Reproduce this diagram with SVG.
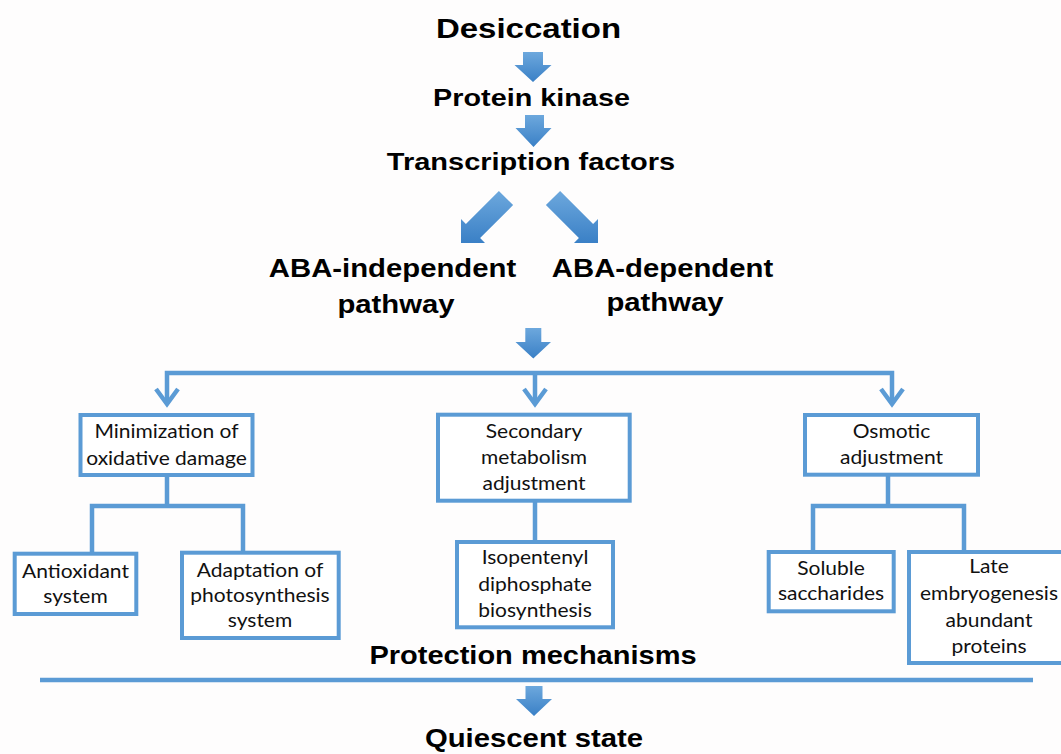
<svg xmlns="http://www.w3.org/2000/svg" width="1061" height="754" viewBox="0 0 1061 754">
<defs>
<linearGradient id="blk" x1="0" y1="0" x2="0" y2="1">
<stop offset="0" stop-color="#6DA8DD"/>
<stop offset="1" stop-color="#3A80C6"/>
</linearGradient>
<marker id="chev" markerUnits="userSpaceOnUse" markerWidth="30" markerHeight="30" refX="17" refY="15" orient="auto-start-reverse" overflow="visible">
<path d="M2,4 L17,15 L2,26" fill="none" stroke="#5B9BD5" stroke-width="4.5" stroke-linejoin="miter"/>
</marker>
<style>
.bold{font-family:"Liberation Sans",Arial,sans-serif;font-weight:bold;fill:#000;text-anchor:middle}
.s{font-family:Lato,"Open Sans",sans-serif;font-size:21px;fill:#111;text-anchor:middle}
.box{fill:#fff;stroke:#5B9BD5;stroke-width:4}
.ln{fill:none;stroke:#5B9BD5;stroke-width:4.5;stroke-linejoin:miter}
.blk{fill:url(#blk)}
</style>
</defs>
<rect x="0" y="0" width="1061" height="754" fill="#FEFDFD"/>

<g id="connectors">
<polygon class="blk" points="523,52 543,52 543,65 551.5,65 533,82 514.5,65 523,65"/>
<polygon class="blk" points="525,115 544,115 544,128 551.5,128 533.5,147 515.5,128 525,128"/>
<polygon class="blk" points="498.9,190.9 513.1,205.1 480.1,238.1 485,243 461,243 461,219 465.9,223.9"/>
<polygon class="blk" points="560.1,190.9 545.9,205.1 578.9,238.1 574,243 598,243 598,219 593.1,223.9"/>
<polygon class="blk" points="525.3,328 541.3,328 541.3,342 551,342 533.3,358.5 515.5,342 525.3,342"/>
<path class="ln" d="M167,404 V373 H892 V404" marker-start="url(#chev)" marker-end="url(#chev)"/>
<path class="ln" d="M535,373 V404" marker-end="url(#chev)"/>
<path class="ln" d="M167,477 V506"/>
<path class="ln" d="M92,552 V506 H243 V551"/>
<path class="ln" d="M535,502 V541"/>
<path class="ln" d="M888,476 V506"/>
<path class="ln" d="M813,551 V506 H964 V551"/>
<path class="ln" d="M40,680 H1033" stroke-width="5"/>
<polygon class="blk" points="525.5,686 542.5,686 542.5,699 552,699 534,716 516,699 525.5,699"/>
</g>

<g id="desiccation"><text class="bold" font-size="33" transform="translate(528.5,37.5) scale(1,0.85)">Desiccation</text></g>
<g id="protein-kinase"><text class="bold" font-size="28.8" transform="translate(531.5,106) scale(1,0.85)">Protein kinase</text></g>
<g id="transcription-factors"><text class="bold" font-size="29" transform="translate(531,170) scale(1,0.85)">Transcription factors</text></g>
<g id="aba-independent"><text class="bold" font-size="29.3" transform="translate(392.5,276.7) scale(1,0.85)"><tspan x="0" y="0">ABA-independent</tspan><tspan x="3.5" y="42.4">pathway</tspan></text></g>
<g id="aba-dependent"><text class="bold" font-size="29.3" transform="translate(662.5,276.7) scale(1,0.85)"><tspan x="0" y="0">ABA-dependent</tspan><tspan x="2.5" y="40.4">pathway</tspan></text></g>

<g id="minimization">
<rect class="box" x="80.5" y="415" width="172" height="60"/>
<text class="s" transform="translate(166.5,438) scale(1,0.88)"><tspan x="0" y="0">Minimization of</tspan><tspan x="0" y="30.7">oxidative damage</tspan></text>
</g>
<g id="antioxidant">
<rect class="box" x="14.7" y="553.7" width="121.6" height="60.3"/>
<text class="s" transform="translate(75.5,578) scale(1,0.88)"><tspan x="0" y="0">Antioxidant</tspan><tspan x="0" y="28.4">system</tspan></text>
</g>
<g id="adaptation">
<rect class="box" x="182" y="552.7" width="156.7" height="85.3"/>
<text class="s" transform="translate(260,576.7) scale(1,0.88)"><tspan x="0" y="0">Adaptation of</tspan><tspan x="0" y="28.4">photosynthesis</tspan><tspan x="0" y="56.8">system</tspan></text>
</g>
<g id="secondary">
<rect class="box" x="438" y="414.7" width="191.7" height="86"/>
<text class="s" transform="translate(534,438) scale(1,0.88)"><tspan x="0" y="0">Secondary</tspan><tspan x="0" y="29.5">metabolism</tspan><tspan x="0" y="59.1">adjustment</tspan></text>
</g>
<g id="isopentenyl">
<rect class="box" x="457" y="542" width="156" height="85.3"/>
<text class="s" transform="translate(535,564) scale(1,0.88)"><tspan x="0" y="0">Isopentenyl</tspan><tspan x="0" y="30.3">diphosphate</tspan><tspan x="0" y="59.9">biosynthesis</tspan></text>
</g>
<g id="osmotic">
<rect class="box" x="805" y="415" width="173" height="59.7"/>
<text class="s" transform="translate(891.5,438) scale(1,0.88)"><tspan x="0" y="0">Osmotic</tspan><tspan x="0" y="29.5">adjustment</tspan></text>
</g>
<g id="soluble">
<rect class="box" x="768.7" y="552" width="125" height="59.3"/>
<text class="s" transform="translate(831,575) scale(1,0.88)"><tspan x="0" y="0">Soluble</tspan><tspan x="0" y="28.4">saccharides</tspan></text>
</g>
<g id="late">
<rect class="box" x="909" y="552" width="160" height="111"/>
<text class="s" transform="translate(989,573) scale(1,0.88)"><tspan x="0" y="0">Late</tspan><tspan x="0" y="30.7">embryogenesis</tspan><tspan x="0" y="61">abundant</tspan><tspan x="0" y="90.6">proteins</tspan></text>
</g>

<g id="protection"><text class="bold" font-size="29" transform="translate(533,663.5) scale(1,0.87)">Protection mechanisms</text></g>
<g id="quiescent"><text class="bold" font-size="29.3" transform="translate(534,747) scale(1,0.9)">Quiescent state</text></g>
</svg>
